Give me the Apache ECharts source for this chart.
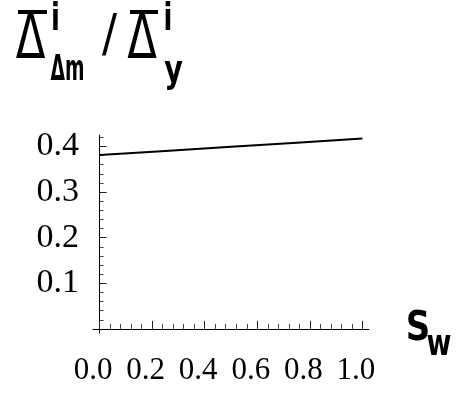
<!DOCTYPE html>
<html><head><meta charset="utf-8">
<script src="https://cdn.jsdelivr.net/npm/echarts@6/dist/echarts.min.js"></script>
<style>html,body{margin:0;padding:0;background:#fff}#c{width:457px;height:394px}</style>
</head><body><div id="c"></div>
<script>
// data
const sw = [0, 0.25, 0.5, 0.75, 1.0];
const ratio = [0.381, 0.390, 0.399, 0.408, 0.4175];
// tick labels / tick positions
const xTicks = [0, 0.2, 0.4, 0.6, 0.8, 1.0];
const xMinorTicks = [0.04,0.08,0.12,0.16,0.24,0.28,0.32,0.36,0.44,0.48,0.52,0.56,0.64,0.68,0.72,0.76,0.84,0.88,0.92,0.96];
const yTicks = [0.1, 0.2, 0.3, 0.4];
const yMinorTicks = [0.02,0.04,0.06,0.08,0.12,0.14,0.16,0.18,0.22,0.24,0.26,0.28,0.32,0.34,0.36,0.38,0.42];
const xName = ['S', 'w'];

const chart = echarts.init(document.getElementById('c'), null, {renderer: 'canvas'});
const serif = '"Liberation Serif", "Times New Roman", serif';
const sans = '"DejaVu Sans", sans-serif';
const XMIN = -0.025, XMAX = 1.025, YMIN = -0.009, YMAX = 0.425;

function glyph(text, cx, cy, size, sx, weight) {
  return {type: 'text', x: cx, y: cy, scaleX: sx, scaleY: 1, silent: true,
    style: {text: text, fill: '#000', fontFamily: sans, fontWeight: weight || 'normal', fontSize: size,
      align: 'center', verticalAlign: 'middle'}};
}

const option = {
  backgroundColor: '#fff',
  animation: false,
  grid: {left: 93, top: 135, width: 276, height: 198, containLabel: false, outerBoundsMode: 'none'},
  xAxis: [
    {type: 'value', min: XMIN, max: XMAX, position: 'bottom',
     axisLine: {show: true, onZero: true, lineStyle: {color: '#000', width: 1}},
     splitLine: {show: false},
     axisTick: {show: true, inside: true, length: 8, customValues: xTicks, lineStyle: {color: '#222', width: 1}},
     axisLabel: {show: true, customValues: xTicks, formatter: v => v.toFixed(1), color: '#000',
       fontFamily: serif, fontSize: 31, margin: 37.5, verticalAlign: 'middle', align: 'center',
       padding: [0, 13, 0, 0], hideOverlap: false}},
    {type: 'value', min: XMIN, max: XMAX, position: 'bottom',
     axisLine: {show: false, onZero: true}, splitLine: {show: false}, axisLabel: {show: false},
     axisTick: {show: true, inside: true, length: 5, customValues: xMinorTicks, lineStyle: {color: '#444', width: 1}}}
  ],
  yAxis: [
    {type: 'value', min: YMIN, max: YMAX, position: 'left',
     axisLine: {show: true, onZero: true, lineStyle: {color: '#000', width: 1}},
     splitLine: {show: false},
     axisTick: {show: true, inside: true, length: 7, customValues: yTicks, lineStyle: {color: '#222', width: 1}},
     axisLabel: {show: true, customValues: yTicks, formatter: v => v.toFixed(1), color: '#000',
       fontFamily: serif, fontSize: 34, margin: 14, align: 'right', verticalAlign: 'middle', hideOverlap: false}},
    {type: 'value', min: YMIN, max: YMAX, position: 'left',
     axisLine: {show: false, onZero: true}, splitLine: {show: false}, axisLabel: {show: false},
     axisTick: {show: true, inside: true, length: 4, customValues: yMinorTicks, lineStyle: {color: '#444', width: 1}}}
  ],
  series: [{
    type: 'line', xAxisIndex: 0, yAxisIndex: 0, showSymbol: false, smooth: false,
    data: sw.map((x, i) => [x, ratio[i]]),
    lineStyle: {color: '#000', width: 2}, itemStyle: {color: '#000'}
  }],
  graphic: [
    // title: overline-Delta^i_{Δm} / overline-Delta^i_y
    {type: 'rect', shape: {x: 18, y: 10, width: 29, height: 4}, style: {fill: '#000'}, silent: true},
    glyph('Δ', 30.5, 41.5, 62, 0.7),
    glyph('i', 55.5, 20.2, 37, 0.7, 'bold'),
    glyph('Δm', 67.5, 70.5, 36, 0.52, 'bold'),
    glyph('/', 109.5, 37, 52, 0.86),
    {type: 'rect', shape: {x: 130, y: 10, width: 28, height: 4}, style: {fill: '#000'}, silent: true},
    glyph('Δ', 142, 41.5, 62, 0.7),
    glyph('i', 168, 20.2, 37, 0.7, 'bold'),
    glyph('y', 173.5, 72, 37, 0.77, 'bold'),
    // axis name S_w
    glyph(xName[0], 418, 329.2, 40, 0.85, 'bold'),
    glyph(xName[1], 439, 345.5, 36, 0.75, 'bold')
  ]
};
chart.setOption(option);
</script>
</body></html>
